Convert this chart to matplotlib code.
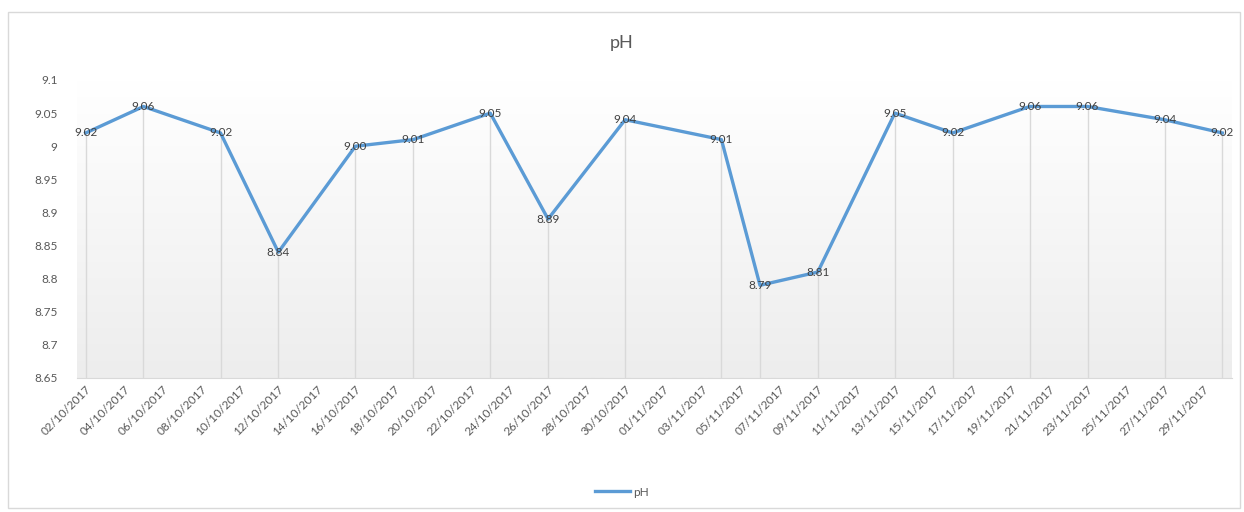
import numpy as np
import pandas as pd
import matplotlib
matplotlib.use("Agg")
import matplotlib.pyplot as plt
import matplotlib.dates as mdates
from matplotlib.patches import Rectangle
from matplotlib.lines import Line2D

plt.rcParams['font.family'] = ['Lato', 'DejaVu Sans']

# sample dates and pH readings
dates = ["2017-10-02", "2017-10-05", "2017-10-09", "2017-10-12", "2017-10-16",
         "2017-10-19", "2017-10-23", "2017-10-26", "2017-10-30", "2017-11-04",
         "2017-11-06", "2017-11-09", "2017-11-13", "2017-11-16", "2017-11-20",
         "2017-11-23", "2017-11-27", "2017-11-30"]
ph = [9.02, 9.06, 9.02, 8.84, 9.00, 9.01, 9.05, 8.89, 9.04, 9.01,
      8.79, 8.81, 9.05, 9.02, 9.06, 9.06, 9.04, 9.02]
yticks = [8.65, 8.7, 8.75, 8.8, 8.85, 8.9, 8.95, 9, 9.05, 9.1]
ytick_labels = ["8.65", "8.7", "8.75", "8.8", "8.85", "8.9", "8.95", "9", "9.05", "9.1"]

x = pd.to_datetime(dates)
W, H = 1244, 512
fig = plt.figure(figsize=(W / 100, H / 100), dpi=100)

# chart border
fig.patches.append(Rectangle((8 / W, 4 / H), 1232 / W, 496 / H, transform=fig.transFigure,
                             fill=False, edgecolor='#d9d9d9', linewidth=1))

ax = fig.add_axes([77 / W, 1 - 378 / H, (1232 - 77) / W, (378 - 80) / H])
ymin, ymax = 8.65, 9.1
xmin = mdates.date2num(pd.Timestamp("2017-10-02")) - 0.45
xmax = mdates.date2num(pd.Timestamp("2017-11-30")) + 0.5
ax.set_xlim(xmin, xmax)
ax.set_ylim(ymin, ymax)

# gradient plot background, white at top -> light grey at bottom
grad = np.linspace(0, 1, 256).reshape(-1, 1)
ax.imshow(grad, extent=[xmin, xmax, ymin, ymax], aspect='auto', origin='upper',
          cmap=matplotlib.colors.LinearSegmentedColormap.from_list('g', ['#ffffff', '#ededed']),
          zorder=0)

ax.vlines(x, ymin, ph, color='#d9d9d9', linewidth=1, zorder=1)
ax.plot(x, ph, color='#5b9bd5', linewidth=2.4, zorder=3)
for xi, yi in zip(x, ph):
    ax.text(xi, yi, f"{yi:.2f}", ha='center', va='center', fontsize=8.5,
            color='#404040', zorder=4)

for s in ['top', 'right', 'left']:
    ax.spines[s].set_visible(False)
ax.spines['bottom'].set_color('#d9d9d9')

ax.set_yticks(yticks)
ax.set_yticklabels(ytick_labels)
ticks = pd.date_range("2017-10-02", "2017-11-29", freq="2D")
ax.set_xticks(ticks)
ax.xaxis.set_major_formatter(mdates.DateFormatter('%d/%m/%Y'))
ax.tick_params(axis='y', length=0, pad=14, labelsize=8.5, labelcolor='#595959')
ax.tick_params(axis='x', length=0, pad=4, labelsize=8.5, labelcolor='#595959')
for lab in ax.get_xticklabels():
    lab.set_rotation(45)
    lab.set_ha('right')
    lab.set_rotation_mode('anchor')

fig.text(0.5, 1 - 43 / H, "pH", ha='center', va='center', fontsize=13, color='#595959')
fig.legend([Line2D([0], [0], color='#5b9bd5', linewidth=2.4)], ["pH"],
           loc='center', bbox_to_anchor=(0.5, 1 - 492 / H), frameon=False,
           fontsize=8.5, labelcolor='#595959', handlelength=3, handletextpad=0.3)

fig.savefig("out.png", dpi=100)
